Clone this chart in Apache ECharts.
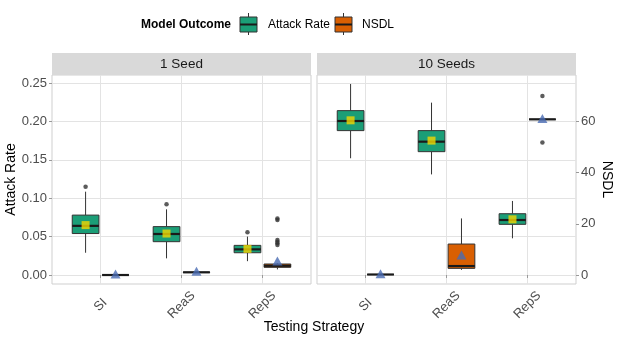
<!DOCTYPE html>
<html lang="en">
<head>
  <meta charset="UTF-8">
  <title>Attack Rate and NSDL by Testing Strategy</title>
  <style>
    body { margin: 0; background: #fff; }
    #chart { width: 617px; height: 343px; }
  </style>
  <script src="https://cdn.jsdelivr.net/npm/echarts@6/dist/echarts.min.js"></script>
</head>
<body>
  <div id="chart"></div>
  <script>
    // ---------------- data ----------------
    const strategies = ['SI', 'ReaS', 'RepS'];
    const panels = ['1 Seed', '10 Seeds'];

    // box stats: [lower whisker, Q1, median, Q3, upper whisker]
    const arBox1 = [[0.029, 0.054, 0.064, 0.078, 0.1085], [0.0217, 0.0434, 0.0534, 0.063, 0.0855], [0.018, 0.029, 0.0334, 0.0386, 0.050]];
    const arMean1 = [0.065, 0.054, 0.034];
    const arOut1 = [[0.115], [0.092], [0.0556]];
    const nsdlBox1 = [[0, 0, 0, 0, 0], [0.9, 1.0, 1.05, 1.1, 1.2], [2.2, 3.0, 3.6, 4.3, 4.6]];
    const nsdlMean1 = [0.4, 1.5, 5.5];
    const nsdlOut1 = [[], [], [11.7, 12.4, 13.0, 13.7, 21.5, 22.1]];

    const arBox10 = [[0.152, 0.188, 0.2005, 0.214, 0.2487], [0.131, 0.1606, 0.1736, 0.188, 0.2244], [0.0478, 0.066, 0.0716, 0.0798, 0.0964]];
    const arMean10 = [0.2014, 0.175, 0.0725];
    const arOut10 = [[], [], []];
    const nsdlBox10 = [[0.2, 0.2, 0.2, 0.2, 0.2], [2.0, 2.6, 3.5, 12.1, 22.1], [60.8, 60.8, 60.8, 60.8, 60.8]];
    const nsdlMean10 = [0.5, 7.8, 61.1];
    const nsdlOut10 = [[], [], [51.8, 69.9]];

    const arTicks = [0, 0.05, 0.10, 0.15, 0.20, 0.25];
    const nsdlTicks = [0, 20, 40, 60];

    // ---------------- styling ----------------
    const FONT = 'Liberation Sans, Arial, sans-serif';
    const GREEN = '#1B9E77', ORANGE = '#D95F02';
    const YELLOW = '#F2D600', BLUE = '#4A6CB3';
    const OFFSET = 0.185, BOXW = 0.33;
    const AR_MIN = -0.0117, AR_MAX = 0.2604, SCALE = 300;

    function boxRenderer(color) {
      return function (params, api) {
        const x = api.value(0);
        const p = [1, 2, 3, 4, 5].map(i => api.coord([x, api.value(i)]));
        const half = api.size([BOXW, 0])[0] / 2;
        const cx = p[0][0];
        const line = { stroke: '#333', lineWidth: 1 };
        return {
          type: 'group',
          children: [
            { type: 'line', shape: { x1: cx, y1: p[0][1], x2: cx, y2: p[1][1] }, style: line },
            { type: 'line', shape: { x1: cx, y1: p[3][1], x2: cx, y2: p[4][1] }, style: line },
            { type: 'rect', shape: { x: cx - half, y: p[3][1], width: half * 2, height: p[1][1] - p[3][1] },
              style: { fill: color, stroke: '#333', lineWidth: 1 } },
            { type: 'line', shape: { x1: cx - half, y1: p[2][1], x2: cx + half, y2: p[2][1] },
              style: { stroke: '#1a1a1a', lineWidth: 2.2 } }
          ]
        };
      };
    }

    function panelSeries(k, arBox, arMean, arOut, nsdlBox, nsdlMean, nsdlOut) {
      const yAr = k * 2, yN = k * 2 + 1;
      const boxData = (stats, off) => stats.map((s, i) => [i + 1 + off].concat(s));
      const outData = (outs, off) => {
        const d = [];
        outs.forEach((o, i) => o.forEach(v => d.push([i + 1 + off, v])));
        return d;
      };
      const base = { xAxisIndex: k, silent: true };
      return [
        Object.assign({}, base, { type: 'custom', yAxisIndex: yAr, renderItem: boxRenderer(GREEN),
          encode: { x: 0, y: [1, 2, 3, 4, 5] }, data: boxData(arBox, -OFFSET), z: 2 }),
        Object.assign({}, base, { type: 'custom', yAxisIndex: yN, renderItem: boxRenderer(ORANGE),
          encode: { x: 0, y: [1, 2, 3, 4, 5] }, data: boxData(nsdlBox, OFFSET), z: 2 }),
        Object.assign({}, base, { type: 'scatter', yAxisIndex: yAr, symbol: 'circle', symbolSize: 4.5,
          itemStyle: { color: '#333' }, data: outData(arOut, -OFFSET), z: 3 }),
        Object.assign({}, base, { type: 'scatter', yAxisIndex: yN, symbol: 'circle', symbolSize: 4.5,
          itemStyle: { color: '#333' }, data: outData(nsdlOut, OFFSET), z: 3 }),
        Object.assign({}, base, { type: 'scatter', yAxisIndex: yAr, symbol: 'rect', symbolSize: 8,
          itemStyle: { color: YELLOW }, data: arMean.map((v, i) => [i + 1 - OFFSET, v]), z: 4 }),
        Object.assign({}, base, { type: 'scatter', yAxisIndex: yN, symbol: 'triangle', symbolSize: [10, 9],
          itemStyle: { color: BLUE }, data: nsdlMean.map((v, i) => [i + 1 + OFFSET, v]), z: 4 })
      ];
    }

    const grids = [
      { left: 52, top: 75, width: 259, height: 209, show: true, borderColor: '#CFCFCF', borderWidth: 1, backgroundColor: '#fff' },
      { left: 317, top: 75, width: 259, height: 209, show: true, borderColor: '#CFCFCF', borderWidth: 1, backgroundColor: '#fff' }
    ];

    const xAxes = [0, 1].map(k => ({
      type: 'value', gridIndex: k, min: 0.4, max: 3.6,
      axisLine: { show: false },
      axisTick: { show: true, length: 3, lineStyle: { color: '#999' }, customValues: [1, 2, 3] },
      axisLabel: { customValues: [1, 2, 3], rotate: 45, align: 'center', verticalAlign: 'middle', margin: 21,
        fontSize: 13, color: '#4D4D4D', fontFamily: FONT,
        formatter: v => strategies[Math.round(v) - 1] },
      splitLine: { show: true, lineStyle: { color: '#E3E3E3', width: 1 } }
    }));

    const yAxes = [
      { type: 'value', gridIndex: 0, position: 'left', min: AR_MIN, max: AR_MAX,
        name: 'Attack Rate', nameLocation: 'middle', nameGap: 32, nameRotate: 90,
        nameTextStyle: { fontSize: 14, color: '#000', fontFamily: FONT },
        axisLine: { show: false },
        axisTick: { show: true, length: 3, lineStyle: { color: '#999' }, customValues: arTicks },
        axisLabel: { customValues: arTicks, margin: 5, fontSize: 13, color: '#4D4D4D', fontFamily: FONT, formatter: v => v.toFixed(2) },
        splitLine: { show: true, lineStyle: { color: '#E3E3E3', width: 1 } } },
      { type: 'value', gridIndex: 0, position: 'right', min: AR_MIN * SCALE, max: AR_MAX * SCALE, show: false },
      { type: 'value', gridIndex: 1, position: 'left', min: AR_MIN, max: AR_MAX,
        axisLine: { show: false },
        axisTick: { show: false, customValues: arTicks },
        axisLabel: { show: false },
        splitLine: { show: true, lineStyle: { color: '#E3E3E3', width: 1 } } },
      { type: 'value', gridIndex: 1, position: 'right', min: AR_MIN * SCALE, max: AR_MAX * SCALE,
        name: 'NSDL', nameLocation: 'middle', nameGap: 16, nameRotate: -90,
        nameTextStyle: { fontSize: 14, color: '#000', fontFamily: FONT },
        axisLine: { show: false },
        axisTick: { show: true, length: 3, lineStyle: { color: '#999' }, customValues: nsdlTicks },
        axisLabel: { customValues: nsdlTicks, margin: 5, fontSize: 13, color: '#4D4D4D', fontFamily: FONT },
        splitLine: { show: false } }
    ];

    function legendIcon(x, color) {
      return [
        { type: 'line', shape: { x1: x + 8.5, y1: 13, x2: x + 8.5, y2: 35 }, style: { stroke: '#333', lineWidth: 1 } },
        { type: 'rect', shape: { x: x, y: 17, width: 17, height: 15 }, style: { fill: color, stroke: '#333', lineWidth: 1 } },
        { type: 'line', shape: { x1: x, y1: 24.5, x2: x + 17, y2: 24.5 }, style: { stroke: '#1a1a1a', lineWidth: 2 } }
      ];
    }

    function strip(x, label) {
      return [
        { type: 'rect', shape: { x: x, y: 53, width: 259, height: 22 }, style: { fill: '#D9D9D9' } },
        { type: 'text', x: x + 129.5, y: 64, style: { text: label, font: '13.5px ' + FONT, fill: '#1A1A1A', align: 'center', verticalAlign: 'middle' } }
      ];
    }

    const graphics = []
      .concat(strip(52, panels[0]), strip(317, panels[1]))
      .concat([
        { type: 'text', x: 141, y: 24.5, style: { text: 'Model Outcome', font: 'bold 12px ' + FONT, fill: '#000', verticalAlign: 'middle' } },
        { type: 'text', x: 268, y: 24.5, style: { text: 'Attack Rate', font: '12px ' + FONT, fill: '#000', verticalAlign: 'middle' } },
        { type: 'text', x: 362, y: 24.5, style: { text: 'NSDL', font: '12px ' + FONT, fill: '#000', verticalAlign: 'middle' } },
        { type: 'text', x: 314, y: 327, style: { text: 'Testing Strategy', font: '14px ' + FONT, fill: '#000', align: 'center', verticalAlign: 'middle' } }
      ])
      .concat(legendIcon(240, GREEN), legendIcon(335, ORANGE));

    const chart = echarts.init(document.getElementById('chart'));
    chart.setOption({
      animation: false,
      backgroundColor: '#fff',
      textStyle: { fontFamily: FONT },
      grid: grids,
      xAxis: xAxes,
      yAxis: yAxes,
      graphic: graphics,
      series: []
        .concat(panelSeries(0, arBox1, arMean1, arOut1, nsdlBox1, nsdlMean1, nsdlOut1))
        .concat(panelSeries(1, arBox10, arMean10, arOut10, nsdlBox10, nsdlMean10, nsdlOut10))
    });
  </script>
</body>
</html>
